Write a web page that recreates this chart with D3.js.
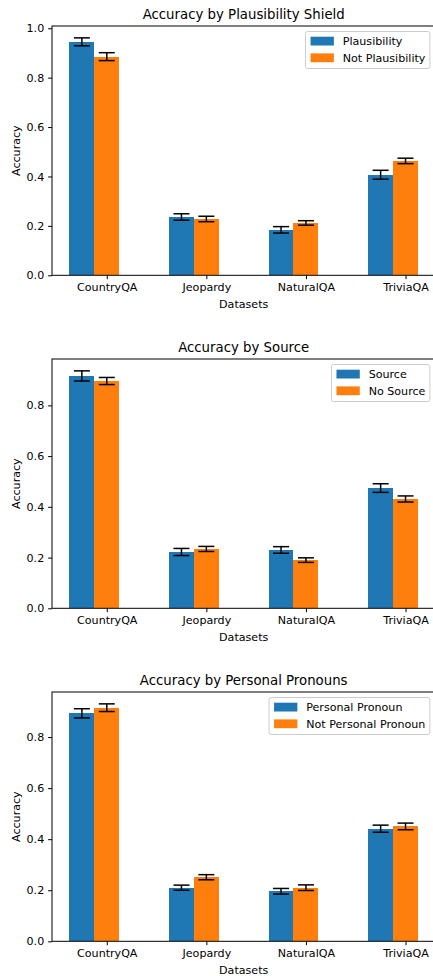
<!DOCTYPE html>
<html>
<head>
<meta charset="utf-8">
<script src="https://cdn.jsdelivr.net/npm/d3@7"></script>
<style>
  html, body { margin: 0; padding: 0; background: #fff; }
  svg { display: block; font-family: "DejaVu Sans", sans-serif; }
</style>
</head>
<body>
<svg id="chart" width="433" height="976"></svg>
<script>
// ---- data ----
const categories = ["CountryQA", "Jeopardy", "NaturalQA", "TriviaQA"];

const titles = ["Accuracy by Plausibility Shield", "Accuracy by Source", "Accuracy by Personal Pronouns"];
const seriesNamesA = ["Plausibility", "Source", "Personal Pronoun"];
const seriesNamesB = ["Not Plausibility", "No Source", "Not Personal Pronoun"];

const plausibility      = [0.945, 0.236, 0.184, 0.407];
const plausibilityErr   = [0.016, 0.013, 0.013, 0.018];
const notPlausibility   = [0.885, 0.228, 0.212, 0.463];
const notPlausibilityErr= [0.016, 0.011, 0.009, 0.011];

const source            = [0.916, 0.222, 0.230, 0.474];
const sourceErr         = [0.020, 0.014, 0.013, 0.017];
const noSource          = [0.896, 0.234, 0.190, 0.431];
const noSourceErr       = [0.014, 0.010, 0.009, 0.012];

const pronoun           = [0.893, 0.210, 0.196, 0.441];
const pronounErr        = [0.018, 0.010, 0.011, 0.014];
const notPronoun        = [0.915, 0.251, 0.210, 0.450];
const notPronounErr     = [0.015, 0.010, 0.011, 0.013];

const yTickStep = 0.2;
const xLabel = "Datasets";
const yLabel = "Accuracy";

// ---- panels built from the arrays ----
const panels = [
  { title: titles[0], a: plausibility, aErr: plausibilityErr, b: notPlausibility, bErr: notPlausibilityErr, nameA: seriesNamesA[0], nameB: seriesNamesB[0] },
  { title: titles[1], a: source, aErr: sourceErr, b: noSource, bErr: noSourceErr, nameA: seriesNamesA[1], nameB: seriesNamesB[1] },
  { title: titles[2], a: pronoun, aErr: pronounErr, b: notPronoun, bErr: notPronounErr, nameA: seriesNamesA[2], nameB: seriesNamesB[2] }
];

const colors = ["#1f77b4", "#ff7f0e"];
const fs = 11.1;
const barW = 0.25;
const svg = d3.select("#chart");

const left = 52, right = 435.4;
const panelTop0 = 26, panelH = 249.3, panelStep = 333;

panels.forEach((p, k) => {
  const top = panelTop0 + k * panelStep;
  const bottom = top + panelH;
  const g = svg.append("g");

  const x = d3.scaleLinear().domain([-0.55, 3.3]).range([left, right]);
  const maxV = d3.max(categories.map((c, i) => Math.max(p.a[i] + p.aErr[i], p.b[i] + p.bErr[i])));
  const yMax = maxV * 1.05;
  const y = d3.scaleLinear().domain([0, yMax]).range([bottom, top]);

  const series = [
    { vals: p.a, errs: p.aErr, off: -barW, color: colors[0] },
    { vals: p.b, errs: p.bErr, off: 0, color: colors[1] }
  ];

  // bars
  series.forEach(s => {
    g.selectAll(null).data(categories).enter().append("rect")
      .attr("x", (c, i) => x(i + s.off - barW / 2))
      .attr("width", x(barW) - x(0))
      .attr("y", (c, i) => y(s.vals[i]))
      .attr("height", (c, i) => y(0) - y(s.vals[i]))
      .attr("fill", s.color)
      .attr("shape-rendering", "crispEdges");
  });

  // error bars
  const capHalf = 8;
  series.forEach(s => {
    const eb = g.selectAll(null).data(categories).enter().append("g")
      .attr("stroke", "#000").attr("stroke-width", 1.5);
    eb.append("line")
      .attr("x1", (c, i) => x(i + s.off)).attr("x2", (c, i) => x(i + s.off))
      .attr("y1", (c, i) => y(s.vals[i] - s.errs[i])).attr("y2", (c, i) => y(s.vals[i] + s.errs[i]));
    [-1, 1].forEach(sign => {
      eb.append("line")
        .attr("x1", (c, i) => x(i + s.off) - capHalf).attr("x2", (c, i) => x(i + s.off) + capHalf)
        .attr("y1", (c, i) => y(s.vals[i] + sign * s.errs[i])).attr("y2", (c, i) => y(s.vals[i] + sign * s.errs[i]));
    });
  });

  // axes
  const yTicks = d3.range(0, yMax + 1e-9, yTickStep);
  const yAxis = d3.axisLeft(y).tickValues(yTicks).tickFormat(d3.format(".1f")).tickSize(3.9).tickPadding(3.9);
  const gy = g.append("g").attr("transform", `translate(${left},0)`).call(yAxis);
  const xAxis = d3.axisBottom(x).tickValues(d3.range(categories.length)).tickFormat(i => categories[i]).tickSize(3.9).tickPadding(3.9);
  const gx = g.append("g").attr("transform", `translate(0,${bottom})`).call(xAxis);
  [gx, gy].forEach(ax => {
    ax.select(".domain").remove();
    ax.selectAll("text").attr("font-size", fs).attr("font-family", "DejaVu Sans").attr("fill", "#000");
    ax.selectAll("line").attr("stroke", "#000").attr("stroke-width", 1);
  });

  // spines
  g.append("rect").attr("x", left).attr("y", top).attr("width", right - left).attr("height", bottom - top)
    .attr("fill", "none").attr("stroke", "#000").attr("stroke-width", 1);

  // title & labels
  g.append("text").attr("x", (left + right) / 2).attr("y", top - 6.7)
    .attr("text-anchor", "middle").attr("font-size", 13.3).attr("fill", "#000").text(p.title);
  g.append("text").attr("x", (left + right) / 2).attr("y", bottom + 24.5)
    .attr("text-anchor", "middle").attr("dominant-baseline", "hanging").attr("font-size", fs).attr("fill", "#000").text(xLabel);
  g.append("text").attr("transform", `translate(${19.5},${(top + bottom) / 2}) rotate(-90)`)
    .attr("text-anchor", "middle").attr("font-size", fs).attr("fill", "#000").text(yLabel);

  // legend
  const names = [p.nameA, p.nameB];
  const lg = g.append("g");
  const tmp = lg.append("text").attr("font-size", fs).text(names[0]);
  const tw = Math.max(...names.map(n => { tmp.text(n); return tmp.node().getComputedTextLength(); }));
  tmp.remove();
  const boxRight = right - 5.5, boxTop = top + 5.5;
  const boxW = 5 + 23.3 + 8.9 + tw + 4.5;
  const boxH = 37;
  const boxLeft = boxRight - boxW;
  lg.append("rect").attr("x", boxLeft).attr("y", boxTop).attr("width", boxW).attr("height", boxH)
    .attr("rx", 2).attr("fill", "#fff").attr("fill-opacity", 0.8).attr("stroke", "#ccc").attr("stroke-width", 1);
  names.forEach((n, j) => {
    const cy = boxTop + 9.6 + j * 16.7;
    lg.append("rect").attr("x", boxLeft + 5).attr("y", cy - 4.4).attr("width", 23.3).attr("height", 8.8).attr("fill", colors[j]);
    lg.append("text").attr("x", boxLeft + 5 + 23.3 + 8.9).attr("y", cy + 4)
      .attr("font-size", fs).attr("fill", "#000").text(n);
  });
});
</script>
</body>
</html>
